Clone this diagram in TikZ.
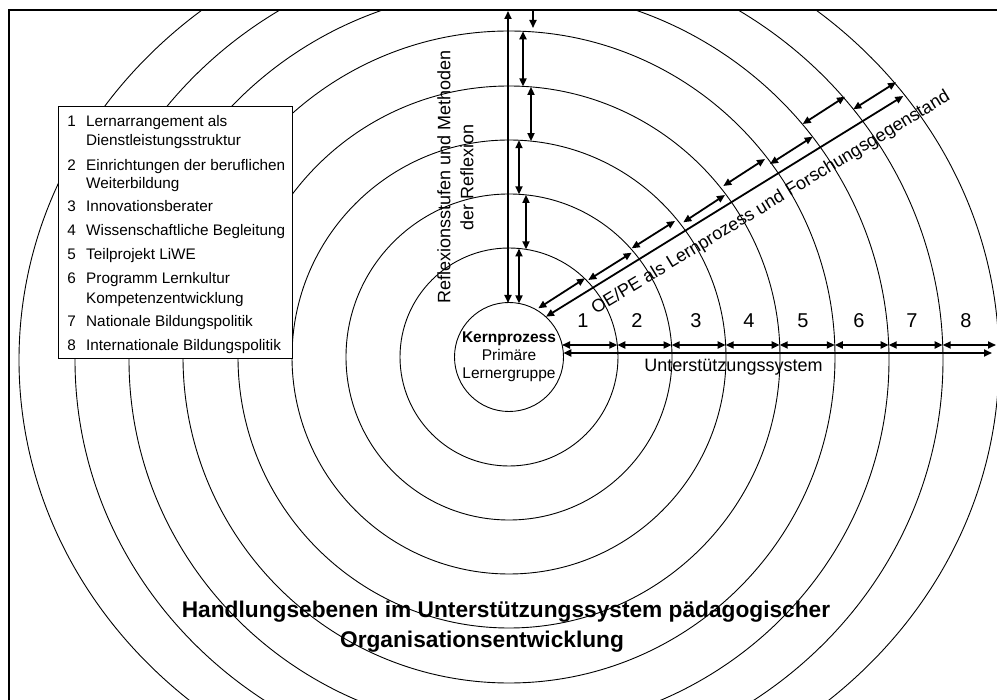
\documentclass[tikz,border=0pt]{standalone}
\usepackage{fontspec}
\setmainfont{Liberation Sans}
\usetikzlibrary{arrows.meta}
\begin{document}
\begin{tikzpicture}[x=1pt,y=-1pt,
  ring/.style={line width=0.9pt},
  tip/.tip={Triangle[length=8pt,width=7pt]},
  dim/.style={line width=1.8pt,tip-tip},
  dimend/.style={line width=1.8pt,-tip},
  lbl/.style={font=\fontsize{18}{23}\selectfont,inner sep=0pt},
  num/.style={font=\fontsize{20}{24}\selectfont,inner sep=0pt},
  leg/.style={font=\fontsize{15.3}{18}\selectfont,inner sep=0pt,anchor=base west},
  legnum/.style={font=\fontsize{15.3}{18}\selectfont,inner sep=0pt,anchor=base east},
  ttl/.style={font=\fontsize{22.7}{27}\selectfont\bfseries,inner sep=0pt,anchor=base},
]
\useasboundingbox (0,0) rectangle (997,700);
\coordinate (O) at (509,357);
\coordinate (Oo) at (509,360);

\begin{scope}
  \clip (9,10) rectangle (997,700);
  % concentric levels; the three outer ones are slightly flattened ovals
  \foreach \r in {109,163,217,271,326}
    \draw[ring] (O) circle[radius=\r];
  \draw[ring] (Oo) ellipse[x radius=380,y radius=371];
  \draw[ring] (Oo) ellipse[x radius=434,y radius=412];
  \draw[ring] (Oo) ellipse[x radius=490,y radius=449];

  % core process
  \node[draw,circle,ring,minimum size=109pt,inner sep=0pt,align=center,
        font=\fontsize{15.5}{18}\selectfont] (core) at (O)
        {\textbf{Kernprozess}\\Primäre\\Lernergruppe};

  % vertical: levels of reflection
  \coordinate (vtop) at (508,11);
  \coordinate (vbot) at (508,303);
  \draw[dim] (vtop) -- (vbot);
  \coordinate (v1a) at (519,303.4);  \coordinate (v1b) at (519,248.5);
  \coordinate (v2a) at (526,249.3);  \coordinate (v2b) at (526,194.9);
  \coordinate (v3a) at (519,194.3);  \coordinate (v3b) at (519,140.2);
  \coordinate (v4a) at (531,141.1);  \coordinate (v4b) at (531,86.9);
  \coordinate (v5a) at (523,86.4);   \coordinate (v5b) at (523,31.3);
  \coordinate (v6a) at (533,8);      \coordinate (v6b) at (533,28);
  \foreach \i in {1,...,5} \draw[dim] (v\i a) -- (v\i b);
  \draw[dimend] (v6a) -- (v6b);

  % horizontal: support system
  \foreach \i/\x in {0/562,1/617.3,2/671.6,3/725.7,4/779.7,5/834.8,6/888.7,7/942.7,8/996}
    \coordinate (h\i) at (\x,345);
  \foreach \i [evaluate=\i as \j using int(\i+1)] in {0,...,7}
    \draw[dim] (h\i) -- (h\j);
  \coordinate (hl0) at (563.3,353);
  \coordinate (hl1) at (992,353);
  \draw[dim] (hl0) -- (hl1);

  % diagonal: OE/PE
  \coordinate (d1a) at (538.3,308.3); \coordinate (d1b) at (585,278.3);
  \coordinate (d2a) at (588.3,280);   \coordinate (d2b) at (631.7,252.7);
  \coordinate (d3a) at (631.7,248.3); \coordinate (d3b) at (675,221);
  \coordinate (d4a) at (683.3,222.3); \coordinate (d4b) at (725,195);
  \coordinate (d5a) at (723.3,186);   \coordinate (d5b) at (765,159);
  \coordinate (d6a) at (770,164);     \coordinate (d6b) at (812.7,136.7);
  \coordinate (d7a) at (802.7,124);   \coordinate (d7b) at (845,96.7);
  \coordinate (d8a) at (853.3,109.3); \coordinate (d8b) at (896,82.3);
  \foreach \i in {1,...,8} \draw[dim] (d\i a) -- (d\i b);
  \coordinate (dla) at (546,316.7);
  \coordinate (dlb) at (903.3,96);
  \draw[dim] (dla) -- (dlb);
\end{scope}

% frame
\draw[line width=2pt] (8.5,700) coordinate (fbl) -- (8.5,10.5) coordinate (ftl) -- (997,10.5) coordinate (ftr);

% labels
\node[lbl,rotate=90,align=center] (refl) at (455.5,177)
  {Reflexionsstufen und Methoden\\der Reflexion};
\node[lbl,rotate=31.2] (oepe) at (771,203)
  {OE/PE als Lernprozess und Forschungsgegenstand};
\node[lbl,anchor=base] (support) at (733.5,371.5) {Unterstützungssystem};
\foreach \i/\x in {1/583,2/637,3/696,4/749,5/803,6/859,7/912,8/966}
  \node[num] (n\i) at (\x,321) {\i};

% legend
\node[draw,fill=white,ring,anchor=north west,minimum width=234pt,minimum height=252pt,inner sep=0pt] (legend) at (58,106) {};
\foreach \n/\y in {1/126.7,2/171,3/211.7,4/236,5/259.3,6/284,7/327,8/350.7}
  \node[legnum] (ln\n) at (76,\y) {\n};
\node[leg] (l1a) at (86,126.7) {Lernarrangement als};
\node[leg] (l1b) at (86,146) {Dienstleistungsstruktur};
\node[leg] (l2a) at (86,171) {Einrichtungen der beruflichen};
\node[leg] (l2b) at (86,189) {Weiterbildung};
\node[leg] (l3) at (86,211.7) {Innovationsberater};
\node[leg] (l4) at (86,236) {Wissenschaftliche Begleitung};
\node[leg] (l5) at (86,259.3) {Teilprojekt LiWE};
\node[leg] (l6a) at (86,284) {Programm Lernkultur};
\node[leg] (l6b) at (86,303.3) {Kompetenzentwicklung};
\node[leg] (l7) at (86,327) {Nationale Bildungspolitik};
\node[leg] (l8) at (86,350.7) {Internationale Bildungspolitik};

% title
\node[ttl] (title1) at (506,617) {Handlungsebenen im Unterstützungssystem pädagogischer};
\node[ttl] (title2) at (482,647) {Organisationsentwicklung};
\end{tikzpicture}
\end{document}
